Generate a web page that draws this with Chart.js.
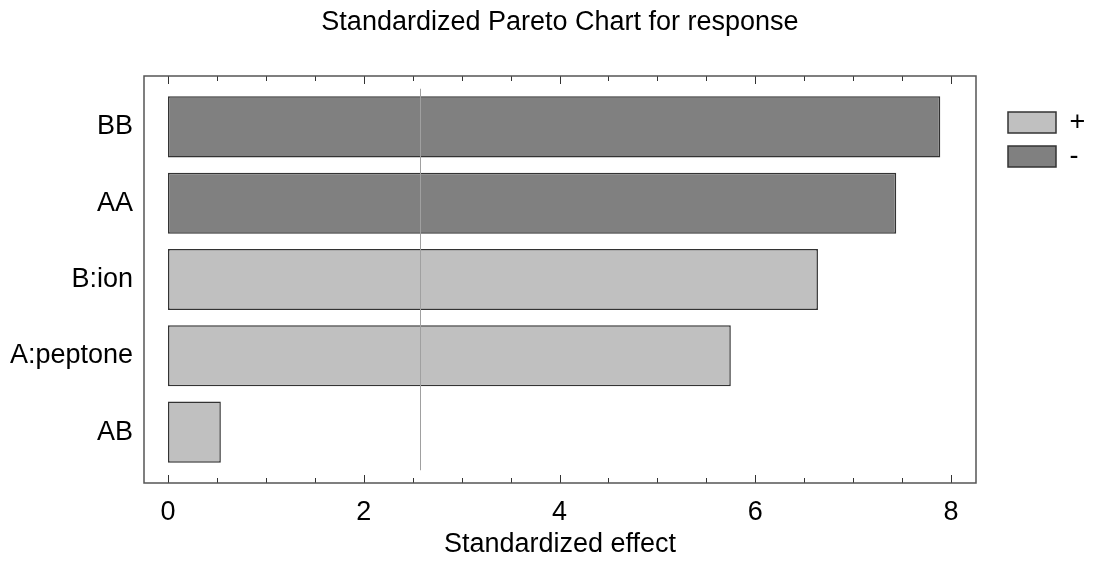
<!DOCTYPE html>
<html>
<head>
<meta charset="utf-8">
<script src="https://cdn.jsdelivr.net/npm/chart.js@4.4.1/dist/chart.umd.min.js"></script>
<style>
  html, body { margin:0; padding:0; background:#fff; }
  #wrap { width:1093px; height:563px; }
</style>
</head>
<body>
<div id="wrap"><canvas id="chart"></canvas></div>
<script>
const factors = ["BB", "AA", "B:ion", "A:peptone", "AB"];
const effects = [7.89, 7.44, 6.64, 5.75, 0.54];
const signs = ["-", "-", "+", "+", "+"];
const criticalValue = 2.57;
const xLabelTicks = [0, 2, 4, 6, 8];
const xMinorStep = 0.5;

const plusColor = "#c0c0c0";
const minusColor = "#808080";
const fontSize = 27;

Chart.defaults.font.family = "'Liberation Sans', Arial, sans-serif";
Chart.defaults.color = "#000";

function pointsFor(sign){
    let pts = [];
    for(let i=0;i<factors.length;i++){
        if(signs[i] === sign) pts.push({x: effects[i], y: i});
    }
    return pts;
}

// frame, inward ticks and the significance line
const framePlugin = {
    id: "frame",
    afterDatasetsDraw(chart){
        const {ctx, chartArea, scales} = chart;
        const xs = scales.x, ys = scales.y;
        ctx.save();

        const rx = Math.round(xs.getPixelForValue(criticalValue)) + 0.5;
        ctx.strokeStyle = "#a0a0a0";
        ctx.lineWidth = 1;
        ctx.beginPath();
        ctx.moveTo(rx, ys.getPixelForValue(-0.5));
        ctx.lineTo(rx, ys.getPixelForValue(factors.length - 0.5));
        ctx.stroke();

        ctx.strokeStyle = "#333";
        ctx.lineWidth = 1;
        xs.ticks.forEach(t => {
            const px = Math.round(xs.getPixelForValue(t.value)) + 0.5;
            const len = xLabelTicks.includes(t.value) ? 8 : 5;
            ctx.beginPath();
            ctx.moveTo(px, chartArea.bottom);
            ctx.lineTo(px, chartArea.bottom - len);
            ctx.moveTo(px, chartArea.top);
            ctx.lineTo(px, chartArea.top + len);
            ctx.stroke();
        });

        ctx.strokeStyle = "#555";
        ctx.lineWidth = 1.5;
        ctx.strokeRect(chartArea.left, chartArea.top, chartArea.right - chartArea.left, chartArea.bottom - chartArea.top);
        ctx.restore();
    }
};

const ctx = document.getElementById("chart");

new Chart(ctx, {
    type: "bar",
    data: {
        datasets: [
        {
            label: "+",
            data: pointsFor("+"),
            backgroundColor: plusColor,
            borderColor: "#333",
            borderWidth: 1.5,
            borderSkipped: false
        },
        {
            label: "-",
            data: pointsFor("-"),
            backgroundColor: minusColor,
            borderColor: "#333",
            borderWidth: 1.5,
            borderSkipped: false
        }]
    },
    options: {
        responsive: true,
        maintainAspectRatio: false,
        animation: false,
        indexAxis: "y",
        grouped: false,
        categoryPercentage: 1,
        barPercentage: 0.8,
        layout: { padding: { left: 0, right: 0, top: 0, bottom: 0 } },
        plugins: {
            title: {
                display: true,
                text: "Standardized Pareto Chart for response",
                fullSize: false,
                font: { size: fontSize, weight: "normal" },
                color: "#000",
                padding: { top: 6, bottom: 37.6 }
            },
            legend: {
                position: "right",
                align: "start",
                fullSize: false,
                maxWidth: 92,
                title: { display: true, text: "", padding: { top: 0, bottom: 11.6 } },
                labels: {
                    boxWidth: 48,
                    boxHeight: 21,
                    padding: 7,
                    color: "#000",
                    font: { size: fontSize }
                }
            },
            tooltip: { enabled: false }
        },
        scales: {
            x: {
                type: "linear",
                position: "bottom",
                min: -0.245,
                max: 8.255,
                grid: { display: false, drawTicks: false },
                border: { display: false },
                afterBuildTicks: s => {
                    const ticks = [];
                    const last = xLabelTicks[xLabelTicks.length - 1];
                    for(let v = xLabelTicks[0]; v <= last + 1e-9; v += xMinorStep){
                        ticks.push({ value: Math.round(v * 100) / 100 });
                    }
                    s.ticks = ticks;
                },
                ticks: {
                    autoSkip: false,
                    maxRotation: 0,
                    padding: 13,
                    font: { size: fontSize },
                    callback: v => (xLabelTicks.includes(v) ? String(v) : "")
                },
                title: {
                    display: true,
                    text: "Standardized effect",
                    font: { size: fontSize },
                    padding: { top: 0, bottom: 2 }
                },
                afterFit: s => { s.height = 80; }
            },
            y: {
                type: "linear",
                position: "left",
                reverse: true,
                offset: false,
                min: -0.667,
                max: 4.667,
                grid: { display: false, drawTicks: false, offset: false },
                border: { display: false },
                afterBuildTicks: s => { s.ticks = factors.map((f, i) => ({ value: i })); },
                ticks: {
                    padding: 11,
                    font: { size: fontSize },
                    callback: v => factors[v]
                },
                afterFit: s => { s.width = 144; }
            },
            gap: {
                type: "linear",
                axis: "y",
                position: "right",
                display: true,
                grid: { display: false, drawTicks: false },
                border: { display: false },
                ticks: { display: false },
                afterFit: s => { s.width = 25; }
            }
        }
    },
    plugins: [framePlugin]
});
</script>
</body>
</html>
